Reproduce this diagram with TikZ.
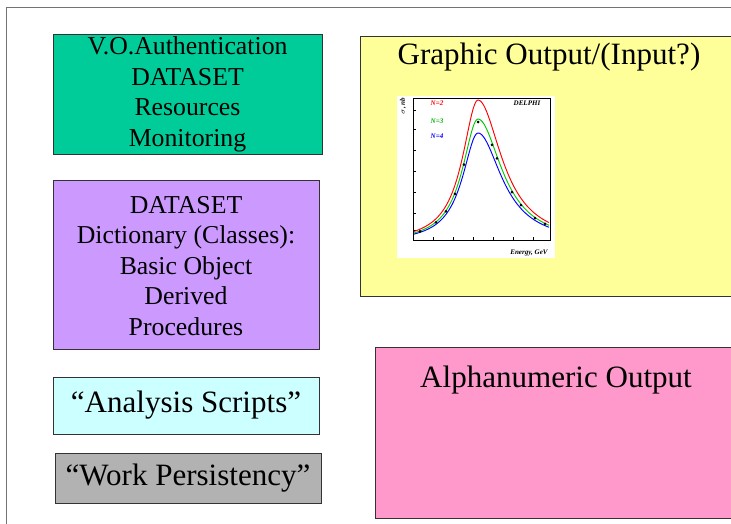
\documentclass[tikz,border=0pt]{standalone}
\usepackage{fontspec}
\setmainfont{Liberation Serif}
\usetikzlibrary{calc}

\definecolor{authgreen}{HTML}{00CC99}
\definecolor{graphyellow}{HTML}{FFFF99}
\definecolor{dictviolet}{HTML}{CC99FF}
\definecolor{scriptcyan}{HTML}{CCFFFF}
\definecolor{persistgray}{HTML}{B2B2B2}
\definecolor{alphapink}{HTML}{FF99CC}

\begin{document}
\begin{tikzpicture}[x=0.03cm, y=-0.03cm,
  panel/.style={draw=black!80, line width=0.6pt},
  boxtext/.style={inner sep=0pt, align=center, font=\fontsize{22}{26}\selectfont},
  headtext/.style={inner sep=0pt, align=center, font=\fontsize{26.5}{30}\selectfont},
  tiny/.style={inner sep=0pt, font=\fontsize{6}{7}\selectfont\itshape\bfseries}]

\useasboundingbox (0, 0) rectangle (731, 523);

% frame round the page
\draw[black!55, line width=1pt] (6.5, 530) -- (6.5, 7.5) -- (740, 7.5);

% left column
\filldraw[panel, fill=authgreen] (53, 34) rectangle (322, 154);
\node[boxtext] (auth) at (187.5, 94.5) {V.O.Authentication\\DATASET\\Resources\\Monitoring};

\filldraw[panel, fill=dictviolet] (53, 180) rectangle (319, 349);
\node[boxtext] (dict) at (186, 266) {DATASET\\Dictionary (Classes):\\Basic Object\\Derived\\Procedures};

\filldraw[panel, fill=scriptcyan] (53, 377) rectangle (319, 434);
\node[headtext] (scripts) at (186, 405.5) {“Analysis Scripts”};

\filldraw[panel, fill=persistgray] (55, 453) rectangle (321, 503);
\node[headtext] (persist) at (188, 478) {“Work Persistency”};

% right column
\filldraw[panel, fill=graphyellow] (360, 36) rectangle (745, 296);
\node[headtext] (graphic) at (549, 57) {Graphic Output/(Input?)};

\filldraw[panel, fill=alphapink] (375, 347) rectangle (745, 518);
\node[headtext] (alpha) at (556, 380) {Alphanumeric Output};

% small plot
\fill[white] (397, 96) rectangle (555, 258);
\draw[line width=0.5pt] (413, 98) rectangle (550, 240);
\foreach \y in {110, 129, 150, 171, 192, 213, 230}
  \draw[line width=0.4pt] (413, \y) -- (416, \y);
\foreach \x in {413, 433, 453, 473, 493, 513, 533, 550}
  \draw[line width=0.4pt] (\x, 240) -- (\x, 237);

\draw[red, line width=0.8pt] plot[domain=414:549, samples=90]
  (\x, {243 - 143/(1 + ((\x-478)/(\x<478 ? 19 : 29))^2)});
\draw[green!80!black, line width=0.8pt] plot[domain=414:549, samples=90]
  (\x, {243 - 124/(1 + ((\x-478)/(\x<478 ? 19 : 29))^2)});
\draw[blue, line width=0.8pt] plot[domain=414:549, samples=90]
  (\x, {243 - 110/(1 + ((\x-478)/(\x<478 ? 19 : 29))^2)});

\foreach \x in {420, 436, 446, 455, 464, 478, 492, 497, 512, 521, 535, 545}
  \fill ($(\x, {243 - 121/(1 + ((\x-478)/(\x<478 ? 19 : 29))^2)})$) circle (1.5);

\node[tiny, red] (ntwo) at (437, 103) {N=2};
\node[tiny, green!70!black] (nthree) at (437, 121) {N=3};
\node[tiny, blue] (nfour) at (437, 136) {N=4};
\node[tiny] (delphi) at (527, 103) {DELPHI};
\node[tiny] (energy) at (529, 253) {Energy, GeV};
\node[tiny, rotate=90] (sigma) at (403, 106) {$\sigma$, nb};

\end{tikzpicture}
\end{document}
